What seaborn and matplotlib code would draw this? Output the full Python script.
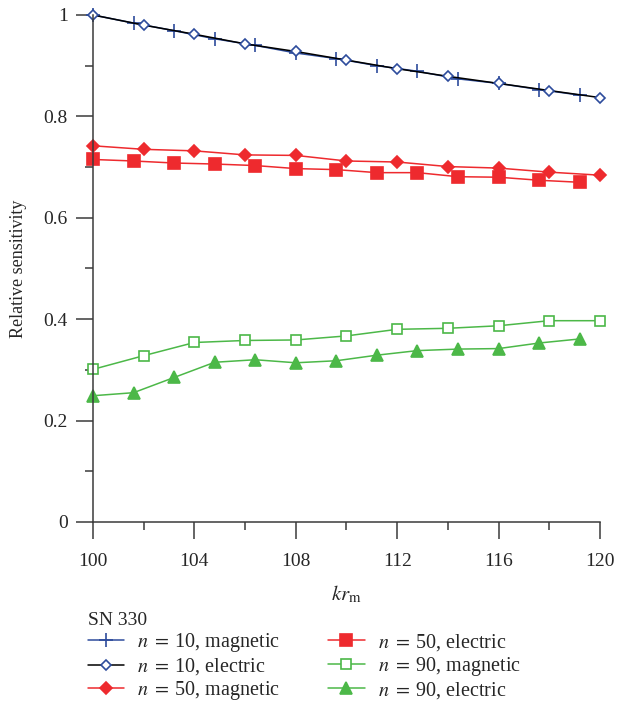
import numpy as np
import pandas as pd
import matplotlib
matplotlib.use("Agg")
import matplotlib.pyplot as plt
from matplotlib.ticker import MultipleLocator, FuncFormatter
import seaborn as sns

# x positions (two marker spacings used in the source figure)
x_step16 = [100.0, 101.6, 103.2, 104.8, 106.4, 108.0, 109.6, 111.2, 112.8, 114.4, 116.0, 117.6, 119.2]
x_step2 = [100, 102, 104, 106, 108, 110, 112, 114, 116, 118, 120]

# relative sensitivity
n10_magnetic = [1.0, 0.984, 0.969, 0.953, 0.940, 0.925, 0.914, 0.900, 0.889, 0.874, 0.865, 0.853, 0.842]
n10_electric = [1.0, 0.980, 0.962, 0.943, 0.928, 0.911, 0.894, 0.879, 0.865, 0.851, 0.837]
n50_magnetic = [0.742, 0.735, 0.732, 0.724, 0.723, 0.712, 0.710, 0.701, 0.698, 0.690, 0.684]
n50_electric = [0.715, 0.712, 0.708, 0.706, 0.703, 0.697, 0.695, 0.689, 0.689, 0.681, 0.680, 0.674, 0.670]
n90_magnetic = [0.301, 0.328, 0.354, 0.358, 0.359, 0.367, 0.380, 0.382, 0.387, 0.397, 0.397]
n90_electric = [0.249, 0.255, 0.285, 0.315, 0.320, 0.314, 0.318, 0.329, 0.338, 0.341, 0.342, 0.353, 0.361]

legend_title = "SN 330"

BLUE = "#2d4c9c"
RED = "#ee2a2e"
GREEN = "#4cb848"

sns.set_theme(style="ticks")
plt.rcParams["font.family"] = ["Liberation Serif", "DejaVu Serif"]
plt.rcParams["mathtext.fontset"] = "stix"

fig = plt.figure(figsize=(6.17, 7.03), dpi=100)
ax = fig.add_axes([0.1507, 0.2575, 0.8217, 0.7212])

# (label, x, y, line colour, marker, marker size, face, edge)
series = [
    (r"$n\;=\;$10, magnetic", x_step16, n10_magnetic, BLUE, "+", 10, BLUE, BLUE),
    (r"$n\;=\;$10, electric", x_step2, n10_electric, "black", "D", 5, "white", BLUE),
    (r"$n\;=\;$50, magnetic", x_step2, n50_magnetic, RED, "D", 6.5, RED, RED),
    (r"$n\;=\;$50, electric", x_step16, n50_electric, RED, "s", 8, RED, RED),
    (r"$n\;=\;$90, magnetic", x_step2, n90_magnetic, GREEN, "s", 7, "white", GREEN),
    (r"$n\;=\;$90, electric", x_step16, n90_electric, GREEN, "^", 8, GREEN, GREEN),
]

for label, xs, ys, color, marker, ms, face, edge in series:
    df = pd.DataFrame({"kr": xs, "sens": ys})
    sns.lineplot(data=df, x="kr", y="sens", ax=ax, color=color, lw=1.1,
                 marker=marker, markersize=ms, markerfacecolor=face,
                 markeredgecolor=edge, markeredgewidth=1.2, label=label,
                 clip_on=False, sort=False)

ax.set_xlim(100, 120)
ax.set_ylim(0, 1)
ax.xaxis.set_major_locator(MultipleLocator(4))
ax.xaxis.set_minor_locator(MultipleLocator(2))
ax.yaxis.set_major_locator(MultipleLocator(0.2))
ax.yaxis.set_minor_locator(MultipleLocator(0.1))
ax.yaxis.set_major_formatter(FuncFormatter(lambda v, pos: f"{v:g}"))

sns.despine(ax=ax)
for side in ["left", "bottom"]:
    ax.spines[side].set_color("#3a3a3a")
    ax.spines[side].set_linewidth(1.1)
ax.tick_params(which="major", length=12, width=1.1, color="#3a3a3a",
               labelsize=14, pad=6)
ax.tick_params(axis="x", which="major", pad=10)
ax.tick_params(which="minor", length=6, width=1.1, color="#3a3a3a")

ax.set_xlabel(r"$kr_{\mathrm{m}}$", fontsize=15, labelpad=10)
ax.set_ylabel("Relative sensitivity", fontsize=13, labelpad=12)

ax.legend_.remove()
handles, labels = ax.get_legend_handles_labels()
leg = fig.legend(handles, labels, title=legend_title, ncols=2,
                 loc="upper left", bbox_to_anchor=(0.142, 0.129),
                 bbox_transform=fig.transFigure, frameon=False,
                 fontsize=14.5, title_fontsize=14, handlelength=1.8,
                 columnspacing=2.4, labelspacing=0.1, handletextpad=0.65,
                 borderaxespad=0, borderpad=0)
leg._legend_box.align = "left"

fig.savefig("out.png", dpi=100)
